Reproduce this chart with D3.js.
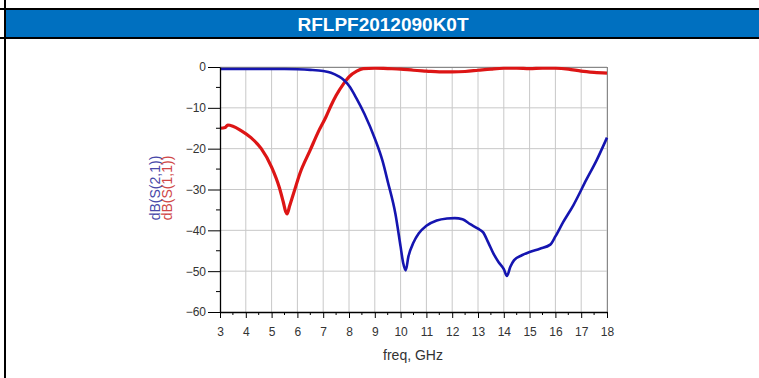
<!DOCTYPE html>
<html>
<head>
<meta charset="utf-8">
<script src="https://cdn.jsdelivr.net/npm/d3@7"></script>
<style>
html,body{margin:0;padding:0;background:#fff;}
svg{display:block;font-family:"Liberation Sans",Arial,sans-serif;}
</style>
</head>
<body>
<svg id="chart" width="759" height="378"></svg>
<script>
const title = "RFLPF2012090K0T";
const xTicks = [3,4,5,6,7,8,9,10,11,12,13,14,15,16,17,18];
const yTicks = [0,-10,-20,-30,-40,-50,-60];
const xLabel = "freq, GHz";
const seriesNames = ["dB(S(2,1))","dB(S(1,1))"];

// S21 (blue)
const s21Freq = [3,4,5,5.5,6,6.5,7,7.3,7.6,7.8,8.0,8.3,8.6,9.0,9.3,9.5,9.8,10.0,10.1,10.2,10.3,10.5,10.7,11.0,11.4,11.8,12.1,12.4,12.7,13.0,13.2,13.4,13.6,13.8,14.0,14.12,14.25,14.4,14.7,15.0,15.4,15.8,16.0,16.3,16.7,17.2,17.6,18.0];
const s21dB   = [-0.5,-0.5,-0.5,-0.5,-0.55,-0.7,-1.0,-1.4,-2.3,-3.2,-4.6,-7.8,-11.5,-17.5,-23,-28,-36,-44,-48,-49.8,-46.5,-43,-40.8,-38.9,-37.6,-37.1,-37.0,-37.3,-38.5,-39.6,-40.5,-43,-45.7,-47.8,-49.5,-51.2,-49,-47.3,-46.1,-45.3,-44.5,-43.5,-41.5,-38,-33.8,-27.6,-22.8,-17.3];

// S11 (red)
const s11Freq = [3,3.2,3.3,3.5,3.8,4.2,4.6,5.0,5.3,5.45,5.55,5.6,5.7,5.85,6.1,6.5,6.8,7.1,7.3,7.5,7.8,8.0,8.3,8.55,9.0,9.5,10.0,10.5,11.0,11.5,12.0,12.5,13.0,13.5,14.0,14.5,15.0,15.5,16.0,16.5,17.0,17.5,18.0];
const s11dB   = [-15,-14.8,-14.2,-14.5,-15.5,-17.3,-20,-24.5,-29.5,-33,-35.5,-36,-34,-31,-26,-20.3,-16,-12.3,-9.5,-7,-4,-2.4,-1.0,-0.4,-0.3,-0.4,-0.5,-0.8,-1.0,-1.2,-1.2,-1.1,-0.8,-0.5,-0.3,-0.3,-0.4,-0.3,-0.3,-0.5,-1.0,-1.3,-1.5];

const svg = d3.select("#chart");

// frame / header
svg.append("rect").attr("x",0).attr("y",8).attr("width",759).attr("height",2).attr("fill","#000");
svg.append("rect").attr("x",6).attr("y",10).attr("width",753).attr("height",27).attr("fill","#0070C0");
svg.append("rect").attr("x",0).attr("y",37).attr("width",759).attr("height",2).attr("fill","#000");
svg.append("rect").attr("x",4).attr("y",0).attr("width",2).attr("height",378).attr("fill","#000");
svg.append("text").attr("x",383).attr("y",31).attr("text-anchor","middle")
  .attr("fill","#fff").attr("font-weight","bold").attr("font-size",19).text(title);

const x = d3.scaleLinear().domain([3,18]).range([220,607]);
const y = d3.scaleLinear().domain([-60,0]).range([312,67]);

// grid
const g = svg.append("g");
g.selectAll("line.vx").data(xTicks.slice(1)).enter().append("line")
  .attr("x1",d=>x(d)).attr("x2",d=>x(d)).attr("y1",y(0)).attr("y2",y(-60))
  .attr("stroke","#c8c8c8").attr("stroke-width",1);
g.selectAll("line.hy").data(yTicks.slice(0,-1)).enter().append("line")
  .attr("x1",x(3)).attr("x2",x(18)).attr("y1",d=>y(d)).attr("y2",d=>y(d))
  .attr("stroke","#c8c8c8").attr("stroke-width",1);
// top & right border
svg.append("line").attr("x1",x(3)).attr("x2",x(18)).attr("y1",y(0)+0.5).attr("y2",y(0)+0.5).attr("stroke","#888");
svg.append("line").attr("x1",x(18)+0.5).attr("x2",x(18)+0.5).attr("y1",y(0)).attr("y2",y(-60)).attr("stroke","#888");

// curves
const line = d3.line().x(d=>x(d[0])).y(d=>y(d[1])).curve(d3.curveMonotoneX);
svg.append("path").datum(s11Freq.map((f,i)=>[f,s11dB[i]]))
  .attr("d",line).attr("fill","none").attr("stroke","#dd1515").attr("stroke-width",3.2);
svg.append("path").datum(s21Freq.map((f,i)=>[f,s21dB[i]]))
  .attr("d",line).attr("fill","none").attr("stroke","#1515b0").attr("stroke-width",2.6);

// axes
const xMinor = d3.range(3.5,18,1);
const yMinor = d3.range(-55,0,10);
const xa = svg.append("g").attr("transform",`translate(0,${y(-60)})`)
  .call(d3.axisBottom(x).tickValues(xTicks).tickFormat(d3.format("d")).tickSize(6).tickPadding(9).tickSizeOuter(0));
xa.select(".domain").attr("stroke","#000").attr("stroke-width",1.3);
xa.selectAll("text").attr("font-size",12).attr("fill","#333").attr("font-family","Liberation Sans, Arial, sans-serif");
xa.selectAll(".minor").data(xMinor).enter().append("line").attr("class","minor")
  .attr("x1",d=>x(d)).attr("x2",d=>x(d)).attr("y1",0).attr("y2",3).attr("stroke","#000");

const ya = svg.append("g").attr("transform",`translate(${x(3)},0)`)
  .call(d3.axisLeft(y).tickValues(yTicks).tickFormat(d3.format("d")).tickSize(12).tickPadding(2).tickSizeOuter(0));
ya.select(".domain").attr("stroke","#000").attr("stroke-width",1.3);
ya.selectAll("text").attr("font-size",12).attr("fill","#333").attr("font-family","Liberation Sans, Arial, sans-serif");
ya.selectAll(".minor").data(yMinor).enter().append("line").attr("class","minor")
  .attr("x1",-4).attr("x2",0).attr("y1",d=>y(d)).attr("y2",d=>y(d)).attr("stroke","#000");

svg.append("text").attr("x",413).attr("y",360).attr("text-anchor","middle")
  .attr("font-size",14).attr("fill","#333").text(xLabel);

svg.append("text").attr("transform","translate(160,188) rotate(-90)").attr("text-anchor","middle")
  .attr("font-size",14).attr("fill","#4848a8").text(seriesNames[0]);
svg.append("text").attr("transform","translate(172,188) rotate(-90)").attr("text-anchor","middle")
  .attr("font-size",14).attr("fill","#d04848").text(seriesNames[1]);
</script>
</body>
</html>
